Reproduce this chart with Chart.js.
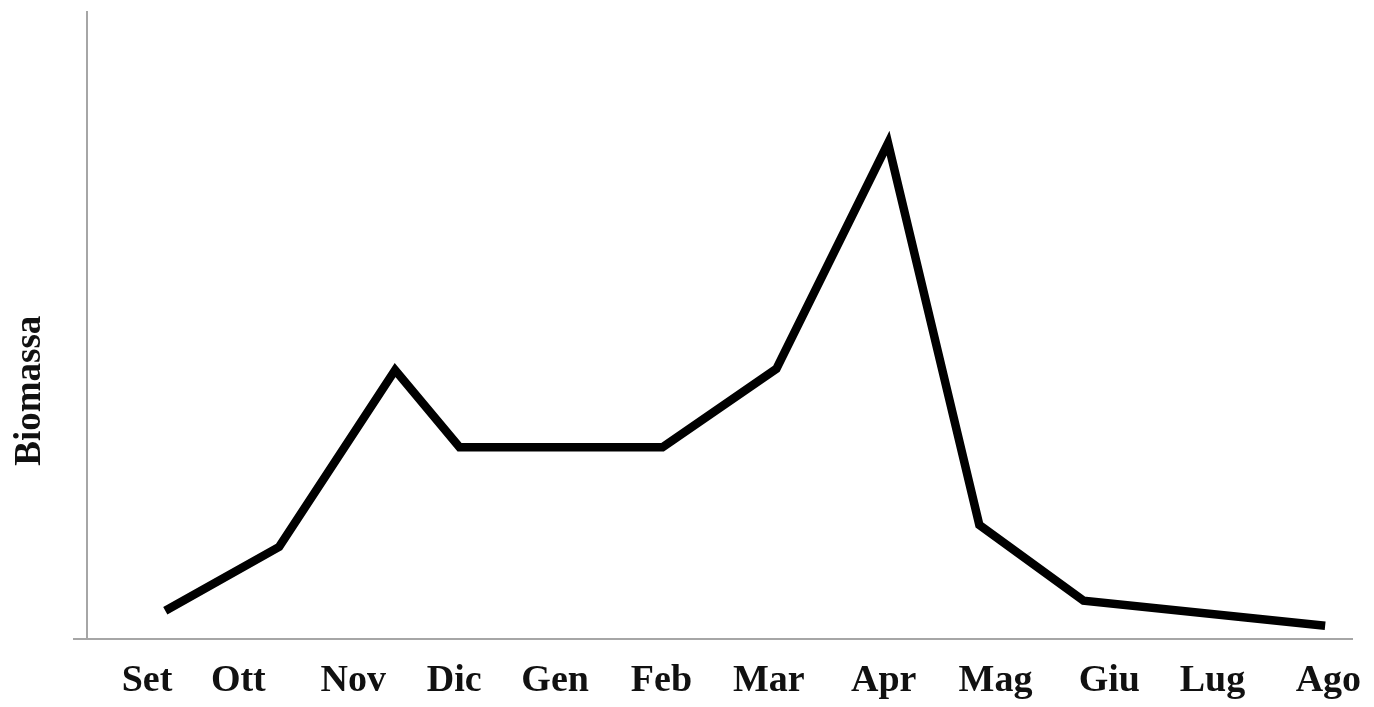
<!DOCTYPE html>
<html>
<head>
<meta charset="utf-8">
<script src="https://cdn.jsdelivr.net/npm/chart.js@4.4.1/dist/chart.umd.min.js"></script>
<style>
  html, body { margin: 0; padding: 0; background: #ffffff; }
  #wrap { width: 1374px; height: 707px; position: relative; }
</style>
</head>
<body>
<div id="wrap"><canvas id="c" width="1374" height="707"></canvas></div>
<script>
// Month tick labels
const months = ['Set', 'Ott', 'Nov', 'Dic', 'Gen', 'Feb', 'Mar', 'Apr', 'Mag', 'Giu', 'Lug', 'Ago'];
// Where each month label sits along the axis (month units)
const monthPos = [0, 0.85, 1.92, 2.86, 3.80, 4.79, 5.79, 6.86, 7.90, 8.96, 9.92, 11.0];
// Positions of the drawn vertices along the same axis
const pointPos = [0.17, 1.23, 2.31, 2.91, 4.80, 5.86, 6.90, 7.75, 8.72, 10.97];
// Relative biomass at those vertices (0-100, no scale shown in original)
const biomass = [4.5, 14.7, 42.9, 30.6, 30.6, 43.1, 79.1, 18.2, 6.1, 2.1];
const yLabel = 'Biomassa';

const axisGray = '#a6a6a6';
const fontFam = '"Liberation Serif", "Times New Roman", serif';

// Y-axis label drawn as real text, centred where the original places it
const yLabelPlugin = {
  id: 'yLabel',
  afterDraw(chart) {
    const { ctx, chartArea } = chart;
    ctx.save();
    ctx.font = 'bold 37px ' + fontFam;
    ctx.fillStyle = '#111111';
    ctx.textAlign = 'center';
    ctx.textBaseline = 'middle';
    ctx.translate(30, chartArea.top + (chartArea.bottom - chartArea.top) * 0.604);
    ctx.rotate(-Math.PI / 2);
    ctx.fillText(yLabel, 0, 0);
    ctx.restore();
  }
};

new Chart(document.getElementById('c'), {
  type: 'line',
  data: {
    datasets: [{
      data: pointPos.map((x, i) => ({ x: x, y: biomass[i] })),
      borderColor: '#000000',
      borderWidth: 8.5,
      borderJoinStyle: 'miter',
      borderCapStyle: 'butt',
      pointRadius: 0,
      tension: 0,
      fill: false
    }]
  },
  options: {
    responsive: false,
    animation: false,
    layout: { padding: { top: 12, right: 22, left: 0, bottom: 0 } },
    plugins: { legend: { display: false }, tooltip: { enabled: false } },
    scales: {
      x: {
        type: 'linear',
        min: -0.559,
        max: 11.22,
        afterBuildTicks: (s) => { s.ticks = monthPos.map((p, i) => ({ value: p, label: months[i] })); },
        afterFit: (s) => { s.height = 68; s.paddingLeft = 0; s.paddingRight = 0; },
        grid: { display: false, drawTicks: false },
        border: { display: true, color: axisGray, width: 2 },
        ticks: {
          autoSkip: false,
          maxRotation: 0,
          padding: 19,
          color: '#111111',
          font: { family: fontFam, size: 38, weight: 'bold' },
          callback: (v, i) => months[i]
        }
      },
      y: {
        min: 0,
        max: 100,
        afterBuildTicks: (s) => { s.ticks = [{ value: 0 }]; },
        afterFit: (s) => { s.width = 87; s.paddingTop = 0; s.paddingBottom = 0; },
        grid: {
          drawOnChartArea: false,
          drawTicks: true,
          tickLength: 14,
          lineWidth: 2,
          color: axisGray
        },
        border: { display: true, color: axisGray, width: 2 },
        ticks: { display: false }
      }
    }
  },
  plugins: [yLabelPlugin]
});
</script>
</body>
</html>
